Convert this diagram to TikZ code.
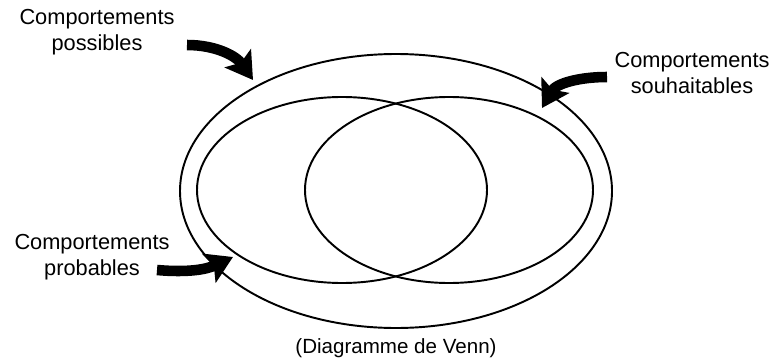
\documentclass[tikz,border=0pt]{standalone}
\usepackage{fontspec}
\setmainfont{Liberation Sans}
\usetikzlibrary{arrows.meta}

\begin{document}
\begin{tikzpicture}[x=0.02cm, y=-0.02cm,
    every node/.style={font=\fontsize{12.4}{14.8}\selectfont, align=center},
    set/.style={line width=1.1pt},
    pointer/.style={line width=6pt, -{Stealth[length=15pt, width=18pt, inset=3pt]}}]
  \useasboundingbox (0, 0) rectangle (773, 358);
  % the three sets
  \draw[set] (396, 191) ellipse [x radius=216, y radius=137];
  \draw[set] (342, 190) ellipse [x radius=145, y radius=93];
  \draw[set] (449, 190) ellipse [x radius=144, y radius=93];
  % labels
  \node (possibles) at (97, 32) {Comportements\\possibles};
  \node (souhaitables) at (692, 73) {Comportements\\souhaitables};
  \node (probables) at (92, 257) {Comportements\\probables};
  \node[font=\fontsize{11.7}{13}\selectfont] (venn) at (396, 348) {(Diagramme de Venn)};
  % arrows
  \coordinate (possibles-tail) at (187, 45);
  \coordinate (possibles-tip) at (253, 80);
  \coordinate (souhaitables-tail) at (607, 77);
  \coordinate (souhaitables-tip) at (542, 108);
  \coordinate (probables-tail) at (157, 270);
  \coordinate (probables-tip) at (233, 257);
  \draw[pointer] (possibles-tail) to[out=0, in=125] (possibles-tip);
  \draw[pointer] (souhaitables-tail) to[out=180, in=60] (souhaitables-tip);
  \draw[pointer] (probables-tail) to[out=-5, in=205] (probables-tip);
\end{tikzpicture}
\end{document}
